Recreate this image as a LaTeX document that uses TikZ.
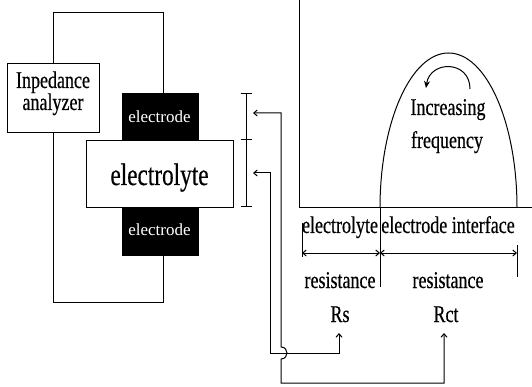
\documentclass[tikz,border=0pt]{standalone}
\usepackage{fontspec}
\setmainfont{Liberation Serif}
\newfontfamily\cond[FakeStretch=0.75,FakeBold=0.4]{Liberation Serif}
\usetikzlibrary{arrows.meta}
\begin{document}
\begin{tikzpicture}[x=1pt,y=-1pt,line width=1pt,
  txt/.style={font=\cond\fontsize{24}{24}\selectfont,inner sep=0pt,anchor=base},
  bigtxt/.style={font=\cond\fontsize{31}{31}\selectfont,inner sep=0pt,anchor=base},
  eltxt/.style={font=\fontsize{17}{17}\selectfont,text=white,inner sep=0pt,anchor=base},
  box/.style={draw,fill=white,inner sep=0pt,anchor=north west},
  blk/.style={fill=black,inner sep=0pt,anchor=north west},
  tip/.tip={Straight Barb[length=3.5pt,width=6pt]}]
\useasboundingbox (0,0) rectangle (532,387);
% left apparatus
\node[blk,minimum width=77,minimum height=47] (etop) at (121,93) {};
\node[blk,minimum width=77,minimum height=48] (ebot) at (121,207) {};
\node[box,minimum width=147,minimum height=67] (ely) at (86,140) {};
\node[box,minimum width=92,minimum height=69] (ana) at (7,63) {};
\node[txt] (t1) at (53,88) {Inpedance};
\node[txt] (t2) at (53,110) {analyzer};
\node[eltxt] (t3) at (159.5,123) {electrode};
\node[eltxt] (t4) at (159.5,235) {electrode};
\node[bigtxt] (t5) at (159.5,185) {electrolyte};
\coordinate (TL) at (53,13); \coordinate (TR) at (163,13);
\coordinate (BL) at (53,302); \coordinate (BR) at (163,302);
\draw (ana.north -| TL) -- (TL) -- (TR) -- (etop.north -| TR);
\draw (ana.south -| BL) -- (BL) -- (BR) -- (ebot.south -| BR);
% bracket
\coordinate (B1) at (246,93); \coordinate (B2) at (246,140); \coordinate (B3) at (246,207);
\draw[{Bar[width=11pt]}-{Bar[width=11pt]}] (B1) -- (B3);
\draw ([xshift=-5.5pt]B2) -- ([xshift=5.5pt]B2);
% graph
\coordinate (Ytop) at (299,0); \coordinate (O) at (299,208); \coordinate (Xend) at (532,208);
\draw (Ytop) -- (O) -- (Xend);
\coordinate (P1) at (380,208); \coordinate (P2) at (517,208);
\draw (P1) .. controls (380,122.4) and (410.7,53) .. (448.5,53) .. controls (486.3,53) and (517,122.4) .. (P2);
\coordinate (C1) at (470,89); \coordinate (C2) at (426,88);
\draw[-{Stealth[length=7pt,width=6pt]}] (C1) .. controls (470,60) and (430,60) .. (C2);
\node[txt] (inc) at (448,115) {Increasing};
\node[txt] (frq) at (447,148) {frequency};
% dimension marks
\draw (302,223) -- (302,257);
\draw (P1) -- (380,287);
\draw (517,245) -- (517,277);
\coordinate (D1) at (302,253); \coordinate (D2) at (380,253); \coordinate (D3) at (517,253);
\draw[tip-tip] (D1) -- (D2);
\draw[tip-tip] (D2) -- (D3);
\node[txt] (l1) at (340,233) {electrolyte};
\node[txt] (l2) at (448,233) {electrode interface};
\node[txt] (r1) at (340,288) {resistance};
\node[txt] (r2) at (448,288) {resistance};
\node[txt] (rs) at (340,322) {Rs};
\node[txt] (rct) at (446,322) {Rct};
% connectors
\coordinate (A1) at (253,113); \coordinate (A2) at (253,173);
\coordinate (S) at (339,333); \coordinate (T) at (444,333);
\draw[tip-tip] (A2) -| (270,353) -| (S);
\draw[tip-tip] (A1) -- (281,113) -- (281,347) .. controls (289,347) and (289,359) .. (281,359) -- (281,383) -| (T);
\end{tikzpicture}
\end{document}
